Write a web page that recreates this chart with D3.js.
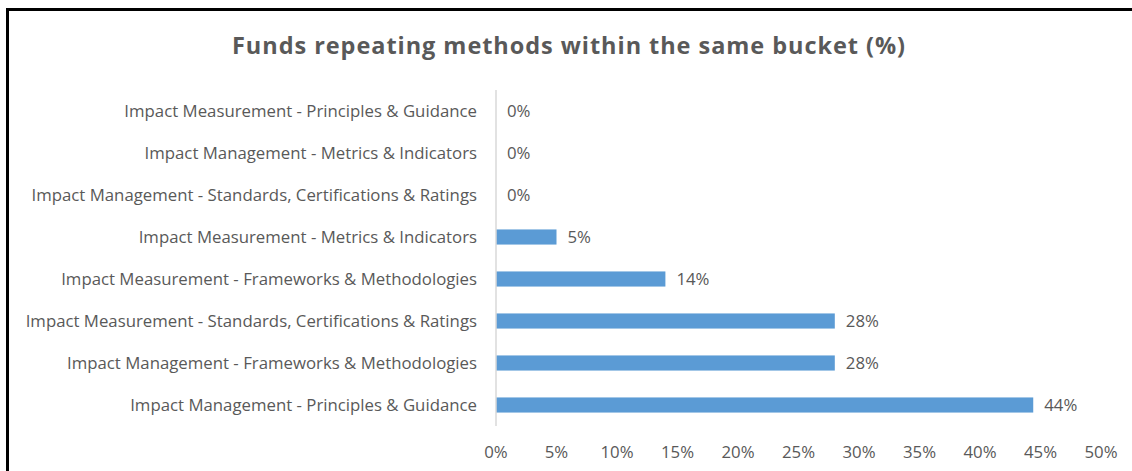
<!DOCTYPE html>
<html>
<head>
<meta charset="utf-8">
<script src="https://cdn.jsdelivr.net/npm/d3@7"></script>
<style>
  html, body { margin: 0; background: #fff; overflow: hidden; }
  svg { display: block; }
  text { font-family: "Open Sans", "Noto Sans", sans-serif; fill: #595959; }
</style>
</head>
<body>
<svg id="chart" width="1132" height="471"></svg>
<script>
// data, top to bottom as drawn
const categories = [
    "Impact Measurement - Principles & Guidance",
    "Impact Management - Metrics & Indicators",
    "Impact Management - Standards, Certifications & Ratings",
    "Impact Measurement - Metrics & Indicators",
    "Impact Measurement - Frameworks & Methodologies",
    "Impact Measurement - Standards, Certifications & Ratings",
    "Impact Management - Frameworks & Methodologies",
    "Impact Management - Principles & Guidance"
];
const values = [0, 0, 0, 0.05, 0.14, 0.28, 0.28, 0.444];
const xTicks = [0, 0.05, 0.1, 0.15, 0.2, 0.25, 0.3, 0.35, 0.4, 0.45, 0.5];
const title = "Funds repeating methods within the same bucket (%)";

const svg = d3.select("#chart");
const width = +svg.attr("width");
const height = +svg.attr("height");

// frame: only top and left edges show, the rest is cropped off
svg.append("path")
    .attr("d", `M7.5,${height} V9.5 H${width}`)
    .attr("fill", "none")
    .attr("stroke", "#000")
    .attr("stroke-width", 3);

svg.append("text")
    .attr("x", 569)
    .attr("y", 54)
    .attr("text-anchor", "middle")
    .style("font-size", "23.5px")
    .style("font-weight", "bold")
    .style("letter-spacing", "0.95px")
    .text(title);

const x = d3.scaleLinear().domain([0, 0.5]).range([496, 1101]);
const y = d3.scaleBand().domain(categories).range([90, 426]).paddingInner(0.64).paddingOuter(0.32);

svg.selectAll(".bar")
    .data(values)
    .enter().append("rect")
    .attr("class", "bar")
    .attr("x", x(0))
    .attr("y", (d, i) => y(categories[i]))
    .attr("width", d => x(d) - x(0))
    .attr("height", y.bandwidth())
    .attr("fill", "#5b9bd5");

// category labels
svg.selectAll(".cat")
    .data(categories)
    .enter().append("text")
    .attr("class", "cat")
    .attr("x", 477)
    .attr("y", d => y(d) + y.bandwidth() / 2)
    .attr("dy", "0.35em")
    .attr("text-anchor", "end")
    .style("font-size", "16.8px")
    .text(d => d);

// value labels
svg.selectAll(".val")
    .data(values)
    .enter().append("text")
    .attr("class", "val")
    .attr("x", d => x(d) + 11)
    .attr("y", (d, i) => y(categories[i]) + y.bandwidth() / 2)
    .attr("dy", "0.35em")
    .style("font-size", "16.8px")
    .text(d => Math.round(d * 100) + "%");

// vertical axis line
svg.append("line")
    .attr("x1", x(0)).attr("x2", x(0))
    .attr("y1", 90).attr("y2", 426)
    .attr("stroke", "#d9d9d9")
    .attr("stroke-width", 1.5);

// x tick labels
svg.selectAll(".tick")
    .data(xTicks)
    .enter().append("text")
    .attr("class", "tick")
    .attr("x", d => x(d))
    .attr("y", 458)
    .attr("text-anchor", "middle")
    .style("font-size", "16.8px")
    .text(d => Math.round(d * 100) + "%");
</script>
</body>
</html>
